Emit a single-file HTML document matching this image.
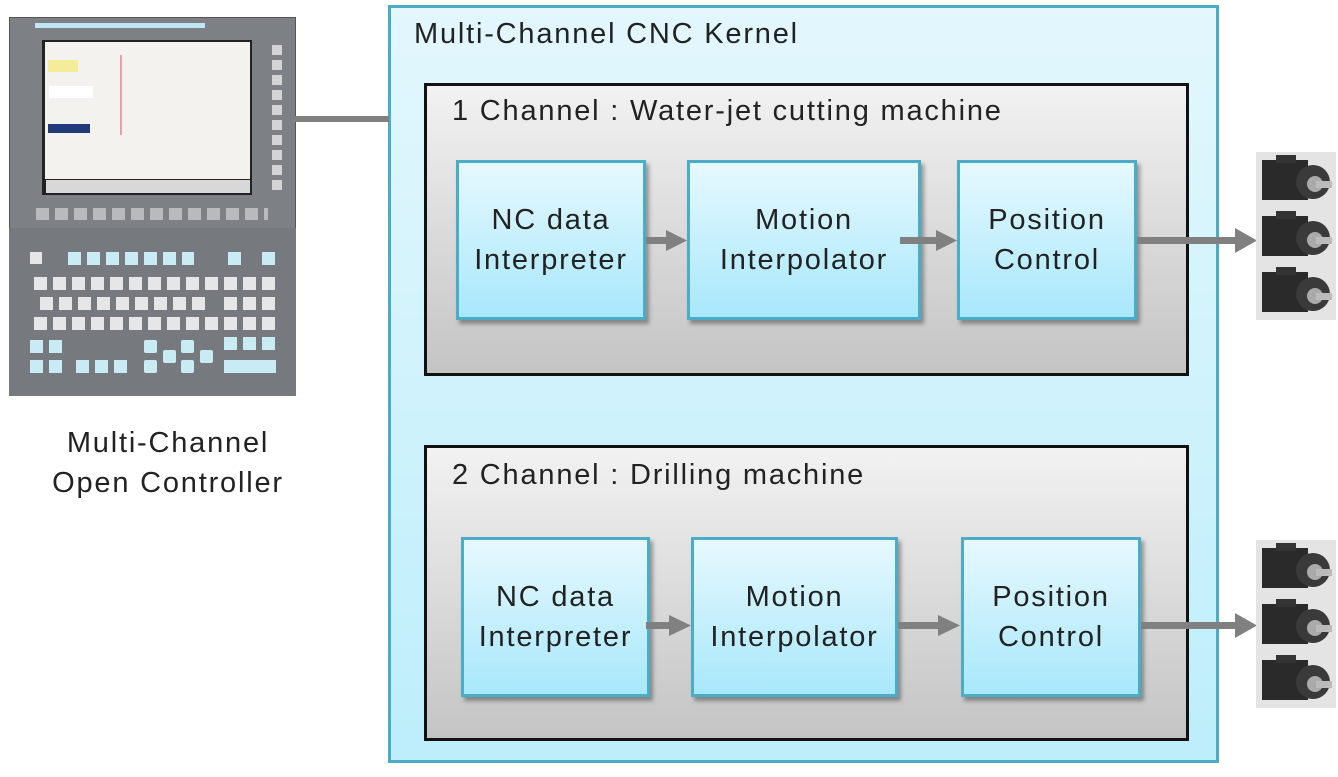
<!DOCTYPE html>
<html><head><meta charset="utf-8"><style>
body{margin:0;width:1338px;height:777px;background:#fff;position:relative;overflow:hidden;font-family:"Liberation Sans",sans-serif;color:#222}
.a{position:absolute;box-sizing:border-box}
.kern{left:388px;top:5px;width:831px;height:758px;border:3px solid #4bacc6;background:linear-gradient(#e3f7fd,#bdeefb)}
.ch{border:3px solid #111;background:linear-gradient(#f2f2f2,#c4c4c4)}
.blk{border:3px solid #4bacc6;background:linear-gradient(#e6f8fe,#a8e8fb);box-shadow:3px 4px 4px rgba(0,0,0,.35);display:flex;align-items:center;justify-content:center;text-align:center;font-size:29px;letter-spacing:1.8px;line-height:40px;color:#222}
.t{font-size:29px;letter-spacing:1.8px;white-space:nowrap}
.k{position:absolute;width:13px;height:13px;border-radius:2px}
</style></head><body>
<!-- controller -->
<div class="a" style="left:9px;top:17px;width:287px;height:379px;background:#7d8185;border:1px solid #555"></div>
<div class="a" style="left:9px;top:228px;width:287px;height:168px;background:#76797d"></div>
<div class="a" style="left:35px;top:23px;width:170px;height:5px;background:#bfe6f2"></div>
<div class="a" style="left:42px;top:40px;width:210px;height:155px;background:#222"></div>
<div class="a" style="left:45px;top:42px;width:205px;height:137px;background:#f4f2ee"></div>
<div class="a" style="left:48px;top:60px;width:30px;height:12px;background:#f5ec9a"></div>
<div class="a" style="left:49px;top:86px;width:44px;height:12px;background:#fff"></div>
<div class="a" style="left:48px;top:124px;width:42px;height:9px;background:#223a7a"></div>
<div class="a" style="left:120px;top:55px;width:2px;height:80px;background:#e7a0a0"></div>
<div class="a" style="left:46px;top:180px;width:204px;height:13px;background:#d8d8d8"></div>
<div class="a" style="left:36px;top:208px;width:232px;height:12px;background:repeating-linear-gradient(90deg,#b8babd 0 13px,transparent 13px 19px)"></div>
<div class="a" style="left:272px;top:45px;width:10px;height:145px;background:repeating-linear-gradient(#d4d4d4 0 10px,transparent 10px 15px)"></div>
<!-- keyboard rows -->
<div class="a" style="left:30px;top:252px;width:12px;height:12px;background:#e6e6e6"></div>
<div class="a" style="left:68px;top:252px;width:126px;height:13px;background:repeating-linear-gradient(90deg,#c9ecf4 0 13px,transparent 13px 19px)"></div>
<div class="a" style="left:228px;top:252px;width:13px;height:13px;background:#c9ecf4"></div>
<div class="a" style="left:262px;top:252px;width:13px;height:13px;background:#c9ecf4"></div>
<div class="a" style="left:34px;top:277px;width:184px;height:13px;background:repeating-linear-gradient(90deg,#e6e6e6 0 13px,transparent 13px 19px)"></div>
<div class="a" style="left:40px;top:297px;width:166px;height:13px;background:repeating-linear-gradient(90deg,#e6e6e6 0 13px,transparent 13px 19px)"></div>
<div class="a" style="left:34px;top:317px;width:184px;height:13px;background:repeating-linear-gradient(90deg,#e6e6e6 0 13px,transparent 13px 19px)"></div>
<div class="a" style="left:224px;top:277px;width:52px;height:53px;background:repeating-linear-gradient(90deg,#e6e6e6 0 13px,transparent 13px 19px);-webkit-mask:repeating-linear-gradient(#000 0 13px,transparent 13px 20px)"></div>
<div class="a" style="left:224px;top:337px;width:52px;height:13px;background:repeating-linear-gradient(90deg,#c9ecf4 0 13px,transparent 13px 19px)"></div>
<div class="a" style="left:30px;top:340px;width:32px;height:13px;background:repeating-linear-gradient(90deg,#c9ecf4 0 13px,transparent 13px 19px)"></div>
<div class="a" style="left:30px;top:360px;width:32px;height:13px;background:repeating-linear-gradient(90deg,#c9ecf4 0 13px,transparent 13px 19px)"></div>
<div class="a" style="left:76px;top:360px;width:52px;height:13px;background:repeating-linear-gradient(90deg,#c9ecf4 0 13px,transparent 13px 19px)"></div>
<div class="k" style="left:144px;top:340px;background:#c9ecf4"></div><div class="k" style="left:144px;top:360px;background:#c9ecf4"></div>
<div class="k" style="left:163px;top:350px;background:#c9ecf4"></div><div class="k" style="left:181px;top:340px;background:#c9ecf4"></div>
<div class="k" style="left:181px;top:360px;background:#c9ecf4"></div><div class="k" style="left:200px;top:350px;background:#c9ecf4"></div>
<div class="a" style="left:224px;top:360px;width:52px;height:13px;background:#c9ecf4"></div>
<div class="a t" style="left:0;top:423px;width:336px;text-align:center;line-height:40px">Multi-Channel<br>Open Controller</div>
<!-- kernel -->
<div class="a kern"></div>
<div class="a t" style="left:414px;top:18px">Multi-Channel CNC Kernel</div>
<div class="a ch" style="left:424px;top:83px;width:765px;height:293px"></div>
<div class="a t" style="left:452px;top:95px">1 Channel : Water-jet cutting machine</div>
<div class="a blk" style="left:456px;top:160px;width:190px;height:160px">NC data<br>Interpreter</div>
<div class="a blk" style="left:687px;top:160px;width:234px;height:160px">Motion<br>Interpolator</div>
<div class="a blk" style="left:957px;top:160px;width:180px;height:160px">Position<br>Control</div>
<div class="a ch" style="left:424px;top:445px;width:765px;height:296px"></div>
<div class="a t" style="left:452px;top:459px">2 Channel : Drilling machine</div>
<div class="a blk" style="left:461px;top:537px;width:189px;height:160px">NC data<br>Interpreter</div>
<div class="a blk" style="left:691px;top:537px;width:207px;height:160px">Motion<br>Interpolator</div>
<div class="a blk" style="left:961px;top:537px;width:180px;height:160px">Position<br>Control</div>
<svg class="a" style="left:0;top:0" width="1338" height="777">
<g fill="#808080">
<rect x="295" y="116" width="94" height="6"/>
<rect x="646" y="237" width="22" height="7"/><polygon points="666,230 687,240.5 666,251"/>
<rect x="900" y="237" width="38" height="7"/><polygon points="936,230 957,240.5 936,251"/>
<rect x="1137" y="237" width="100" height="7"/><polygon points="1235,228 1257,240.5 1235,253"/>
<rect x="646" y="622" width="25" height="7"/><polygon points="669,615 691,625.5 669,636"/>
<rect x="898" y="622" width="42" height="7"/><polygon points="938,615 960,625.5 938,636"/>
<rect x="1141" y="622" width="96" height="7"/><polygon points="1235,613 1257,625.5 1235,638"/>
</g>
<g id="m">
<rect x="1256" y="152" width="80" height="56" fill="#e4e4e4"/>
<rect x="1262" y="160" width="46" height="40" fill="#2a2a2a"/>
<rect x="1276" y="155" width="20" height="8" fill="#333"/>
<circle cx="1313" cy="182" r="17" fill="#3a3a3a"/>
<circle cx="1315" cy="184" r="8" fill="#aaa"/>
<rect x="1316" y="181" width="16" height="7" fill="#bbb"/>
</g>
<use href="#m" y="56"/><use href="#m" y="112"/>
<use href="#m" y="388"/><use href="#m" y="444"/><use href="#m" y="500"/>
</svg>
</body></html>
